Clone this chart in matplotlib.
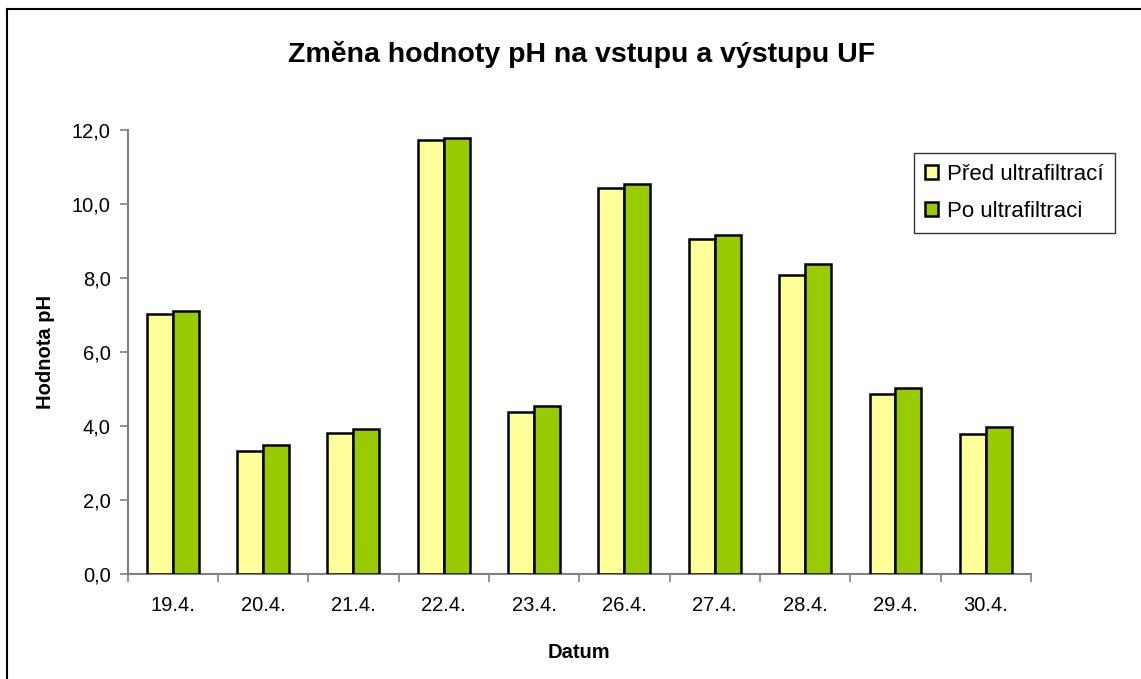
import matplotlib
matplotlib.use("Agg")
import matplotlib.pyplot as plt
import numpy as np
from matplotlib.ticker import FuncFormatter

# === DATA ===
dates = ["19.4.", "20.4.", "21.4.", "22.4.", "23.4.", "26.4.", "27.4.", "28.4.", "29.4.", "30.4."]
ph_before = [7.02, 3.33, 3.82, 11.73, 4.39, 10.42, 9.06, 8.07, 4.86, 3.78]
ph_after = [7.11, 3.50, 3.91, 11.78, 4.55, 10.54, 9.16, 8.38, 5.03, 3.97]
series_names = ["Před ultrafiltrací", "Po ultrafiltraci"]

plt.rcParams['font.family'] = ['Liberation Sans', 'DejaVu Sans']

fig = plt.figure(figsize=(11.41, 6.79), dpi=100)
ax = fig.add_axes([127.5 / 1141, 1 - 574 / 679, (1031 - 127.5) / 1141, (574 - 130) / 679])

x = np.arange(len(dates))
w = 0.287
ax.bar(x - w / 2, ph_before, w, color="#FFFF99", edgecolor="black", linewidth=1.8,
       label=series_names[0], zorder=3)
ax.bar(x + w / 2, ph_after, w, color="#99CC00", edgecolor="black", linewidth=1.8,
       label=series_names[1], zorder=3)

ax.set_xlim(-0.5, len(dates) - 0.5)
ax.set_ylim(0, 12)
ax.set_yticks(np.arange(0, 12.1, 2))
ax.yaxis.set_major_formatter(FuncFormatter(lambda v, p: f"{v:.1f}".replace(".", ",")))

# category labels centred, tick marks between categories
ax.set_xticks(x)
ax.set_xticklabels(dates)
ax.tick_params(axis="x", length=0, pad=16, labelsize=14.5)
ax.set_xticks(np.arange(-0.5, len(dates), 1), minor=True)
ax.tick_params(axis="x", which="minor", length=6, color="#808080", width=1.2)
ax.tick_params(axis="y", length=6, color="#808080", width=1.2, labelsize=14.5, pad=6)

for s in ["top", "right"]:
    ax.spines[s].set_visible(False)
for s in ["left", "bottom"]:
    ax.spines[s].set_color("#808080")
    ax.spines[s].set_linewidth(1.5)

ax.set_xlabel("Datum", fontsize=14.5, fontweight="bold", labelpad=20)
ax.set_ylabel("Hodnota pH", fontsize=14.5, fontweight="bold", labelpad=12)
fig.text(582 / 1141, 1 - 55 / 679, "Změna hodnoty pH na vstupu a výstupu UF",
         ha="center", va="center", fontsize=20.5, fontweight="bold")

leg = ax.legend(loc="upper left", bbox_to_anchor=(914 / 1141, 1 - 153 / 679),
                bbox_transform=fig.transFigure, fontsize=16, frameon=True,
                fancybox=False, shadow=False, edgecolor="black", borderaxespad=0,
                handlelength=0.6, handleheight=0.6, handletextpad=0.4,
                borderpad=0.5, labelspacing=0.7)
leg.get_frame().set_linewidth(1.0)

# outer chart border (left and top visible)
fig.add_artist(plt.Line2D([7 / 1141, 7 / 1141], [0, 1 - 9 / 679], color="black",
                          linewidth=1.5, transform=fig.transFigure))
fig.add_artist(plt.Line2D([7 / 1141, 1], [1 - 9 / 679, 1 - 9 / 679], color="black",
                          linewidth=1.5, transform=fig.transFigure))

fig.savefig("out.png", dpi=100)
